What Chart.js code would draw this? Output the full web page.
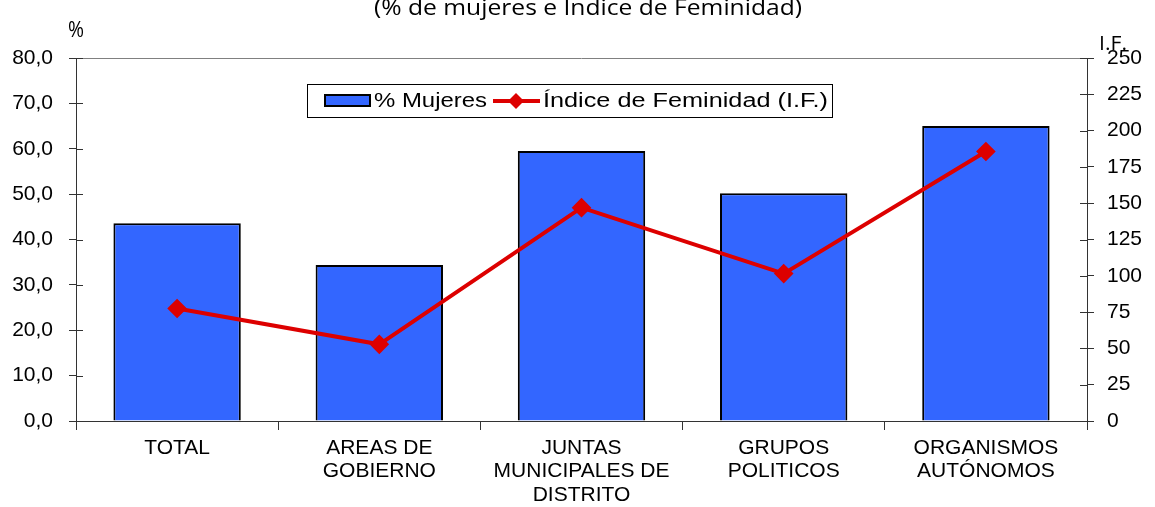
<!DOCTYPE html>
<html lang="es">
<head>
    <meta charset="UTF-8">
    <title>% de mujeres e Índice de Feminidad</title>
    <script src="https://cdn.jsdelivr.net/npm/chart.js"></script>
    <style>
        * { margin: 0; padding: 0; box-sizing: border-box; }
        html, body { width: 1155px; height: 507px; background: white; overflow: hidden; }
        .wrap { position: relative; width: 1155px; height: 507px; }
    </style>
</head>
<body>
    <div class="wrap"><canvas id="chart"></canvas></div>

    <script>
        const categories = [
            ['TOTAL'],
            ['AREAS DE', 'GOBIERNO'],
            ['JUNTAS', 'MUNICIPALES DE', 'DISTRITO'],
            ['GRUPOS', 'POLITICOS'],
            ['ORGANISMOS', 'AUTÓNOMOS']
        ];
        const pctMujeres = [43.6, 34.4, 59.5, 50.2, 65.0];
        const indiceFeminidad = [77.5, 52.8, 146.9, 101.5, 185.6];
        const leftTicks = [0, 10, 20, 30, 40, 50, 60, 70, 80];
        const rightTicks = [0, 25, 50, 75, 100, 125, 150, 175, 200, 225, 250];

        const blue = '#3366FF';
        const red = '#DD0000';
        const axisGray = '#808080';
        const arial = "'Liberation Sans', Arial, sans-serif";
        const tickFont = { family: arial, size: 21 };
        const catFont = { family: arial, size: 21, lineHeight: 1.1 };

        // text squeezed/stretched horizontally to a given width
        function fitText(ctx, text, x, y, width) {
            const w = ctx.measureText(text).width;
            ctx.save();
            ctx.translate(x, y);
            ctx.scale(width / w, 1);
            ctx.fillText(text, 0, 0);
            ctx.restore();
        }

        const extras = {
            id: 'extras',
            afterDraw(chart) {
                const ctx = chart.ctx;
                const area = chart.chartArea;
                ctx.save();
                ctx.fillStyle = '#000';
                ctx.textBaseline = 'alphabetic';
                ctx.textAlign = 'left';
                ctx.font = "22px 'Open Sans', sans-serif";
                fitText(ctx, '(% de mujeres e Índice de Feminidad)', 374, 15, 428);
                ctx.font = "21px 'Open Sans', sans-serif";
                fitText(ctx, '%', 68, 37, 16);
                ctx.font = "20px 'Open Sans', sans-serif";
                fitText(ctx, 'I.F.', 1099, 50, 28);

                // legend
                ctx.fillStyle = '#fff';
                ctx.fillRect(307, 84, 525, 33);
                ctx.strokeStyle = '#000';
                ctx.lineWidth = 1;
                ctx.strokeRect(307.5, 84.5, 525, 33);
                ctx.fillStyle = blue;
                ctx.fillRect(325, 95, 45, 11);
                ctx.lineWidth = 2;
                ctx.strokeRect(325, 95, 45, 11);
                ctx.strokeStyle = red;
                ctx.lineWidth = 4;
                ctx.beginPath();
                ctx.moveTo(493, 101);
                ctx.lineTo(540, 101);
                ctx.stroke();
                ctx.fillStyle = red;
                ctx.beginPath();
                ctx.moveTo(516, 93);
                ctx.lineTo(524, 101);
                ctx.lineTo(516, 109);
                ctx.lineTo(508, 101);
                ctx.closePath();
                ctx.fill();
                ctx.fillStyle = '#000';
                ctx.font = '20px ' + arial;
                ctx.textBaseline = 'middle';
                fitText(ctx, '% Mujeres', 374, 101, 113);
                fitText(ctx, 'Índice de Feminidad (I.F.)', 543, 101, 285);

                // top border of the plot area
                ctx.strokeStyle = axisGray;
                ctx.lineWidth = 1;
                const top = Math.round(area.top) + 0.5;
                ctx.beginPath();
                ctx.moveTo(area.left, top);
                ctx.lineTo(area.right, top);
                ctx.stroke();

                // tick marks cross the value axes
                ctx.strokeStyle = '#333';
                ctx.beginPath();
                const yL = chart.scales.y, yR = chart.scales.y1;
                leftTicks.forEach(v => {
                    const py = Math.round(yL.getPixelForValue(v)) + 0.5;
                    ctx.moveTo(area.left, py);
                    ctx.lineTo(area.left + 7, py);
                });
                rightTicks.forEach(v => {
                    const py = Math.round(yR.getPixelForValue(v)) + 0.5;
                    ctx.moveTo(area.right - 7, py);
                    ctx.lineTo(area.right, py);
                });
                ctx.stroke();
                ctx.restore();
            }
        };

        new Chart(document.getElementById('chart'), {
            data: {
                labels: categories,
                datasets: [
                    {
                        type: 'line',
                        label: 'Índice de Feminidad (I.F.)',
                        data: indiceFeminidad,
                        yAxisID: 'y1',
                        borderColor: red,
                        backgroundColor: red,
                        borderWidth: 4,
                        pointStyle: 'rectRot',
                        pointRadius: 7,
                        pointHoverRadius: 7,
                        tension: 0,
                        order: 0
                    },
                    {
                        type: 'bar',
                        label: '% Mujeres',
                        data: pctMujeres,
                        yAxisID: 'y',
                        backgroundColor: blue,
                        borderColor: '#000',
                        borderWidth: 2,
                        barPercentage: 0.63,
                        categoryPercentage: 1,
                        order: 1
                    }
                ]
            },
            options: {
                responsive: true,
                maintainAspectRatio: false,
                animation: false,
                layout: { padding: { top: 58, left: 0, right: 0, bottom: 0 } },
                plugins: { legend: { display: false }, tooltip: { enabled: false } },
                scales: {
                    x: {
                        offset: true,
                        grid: { offset: true, drawOnChartArea: false, tickLength: 9, color: '#333' },
                        border: { color: '#333', width: 1 },
                        ticks: { color: '#000', font: catFont, maxRotation: 0, padding: 7 },
                        afterFit(scale) { scale.height = 86; }
                    },
                    y: {
                        position: 'left',
                        min: 0, max: 80,
                        afterBuildTicks(scale) { scale.ticks = leftTicks.map(v => ({ value: v })); },
                        grid: { drawOnChartArea: false, tickLength: 7, color: '#333' },
                        border: { color: '#333', width: 1 },
                        ticks: {
                            color: '#000', font: tickFont, padding: 16,
                            callback: v => v.toFixed(1).replace('.', ',')
                        },
                        afterFit(scale) { scale.width = 76; }
                    },
                    y1: {
                        position: 'right',
                        min: 0, max: 250,
                        afterBuildTicks(scale) { scale.ticks = rightTicks.map(v => ({ value: v })); },
                        grid: { drawOnChartArea: false, tickLength: 7, color: '#333' },
                        border: { color: '#333', width: 1 },
                        ticks: { color: '#000', font: tickFont, padding: 13 },
                        afterFit(scale) { scale.width = 68; }
                    }
                }
            },
            plugins: [extras]
        });
    </script>
</body>
</html>
